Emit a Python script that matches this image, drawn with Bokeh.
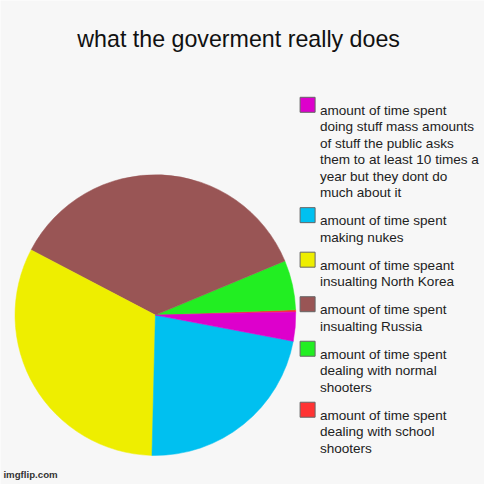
import numpy as np
from bokeh.plotting import figure
from bokeh.models import Range1d, ColumnDataSource
from bokeh.core.properties import value
from bokeh.embed import file_html
from bokeh.resources import INLINE

# ---- data ----
title_text = "what the goverment really does"
categories = [
    "amount of time spent dealing with school shooters",
    "amount of time spent dealing with normal shooters",
    "amount of time spent insualting Russia",
    "amount of time speant insualting North Korea",
    "amount of time spent making nukes",
    "amount of time spent doing stuff mass amounts of stuff the public asks them to at least 10 times a year but they dont do much about it",
]
legend_lines = [
    ["amount of time spent", "dealing with school", "shooters"],
    ["amount of time spent", "dealing with normal", "shooters"],
    ["amount of time spent", "insualting Russia"],
    ["amount of time speant", "insualting North Korea"],
    ["amount of time spent", "making nukes"],
    ["amount of time spent", "doing stuff mass amounts", "of stuff the public asks",
     "them to at least 10 times a", "year but they dont do", "much about it"],
]
values = [0.25, 5.7, 36.0, 32.3, 22.4, 3.35]
colors = ["#ff3333", "#22ee22", "#995555", "#eeee00", "#00c0f0", "#dd00cc"]

BG = "#f7f7f7"
FONT = "Liberation Sans"
H = 500            # reference coordinate system (pixels)
PX = 484           # figure size in screen pixels
S = PX / H         # scale from reference pixels to screen pixels

p = figure(width=PX, height=PX, x_range=Range1d(0, H), y_range=Range1d(0, H),
           output_backend="svg", toolbar_location=None, min_border=0)
p.axis.visible = False
p.grid.visible = False
p.outline_line_color = None
p.background_fill_color = BG
p.border_fill_color = BG


def fs(px):
    return f"{px * S:.2f}px"


# ---- pie ----
cx, cy, r = 160, H - 325, 145
start0 = 1.3
vals = np.array(values, dtype=float)
fr = vals / vals.sum() * 360.0
ends = start0 + np.cumsum(fr)
starts = ends - fr
src = ColumnDataSource(dict(start=starts, end=ends, color=colors, name=categories))
p.wedge(x=cx, y=cy, radius=r, start_angle="start", end_angle="end",
        start_angle_units="deg", end_angle_units="deg",
        fill_color="color", line_color="color", line_width=0.5, source=src)

# ---- title ----
p.text(x=[246], y=[H - 39.5], text=[title_text], text_font=value(FONT),
       text_font_size=fs(24), text_align="center", text_baseline="alphabetic",
       text_color="#111111")

# ---- legend (reverse order, top to bottom) ----
y = 100
for i in reversed(range(len(categories))):
    p.quad(left=[309.5], right=[325], top=[H - y], bottom=[H - y - 15.5],
           fill_color=colors[i], line_color="#666666", line_width=1)
    lines = legend_lines[i]
    ys = [H - (y + 13.5 + 17 * k) for k in range(len(lines))]
    p.text(x=[330] * len(lines), y=ys, text=lines, text_font=value(FONT),
           text_font_size=fs(14), text_align="left", text_baseline="alphabetic",
           text_color="#222222")
    y = y + 13 + 17 * (len(lines) - 1) + 16

# ---- watermark ----
p.text(x=[3], y=[H - 490], text=["imgflip.com"], text_font=value(FONT),
       text_font_size=fs(10), text_font_style="bold", text_align="left",
       text_baseline="alphabetic", text_color="#333333")

open("out.html", "w").write(file_html(p, INLINE))
